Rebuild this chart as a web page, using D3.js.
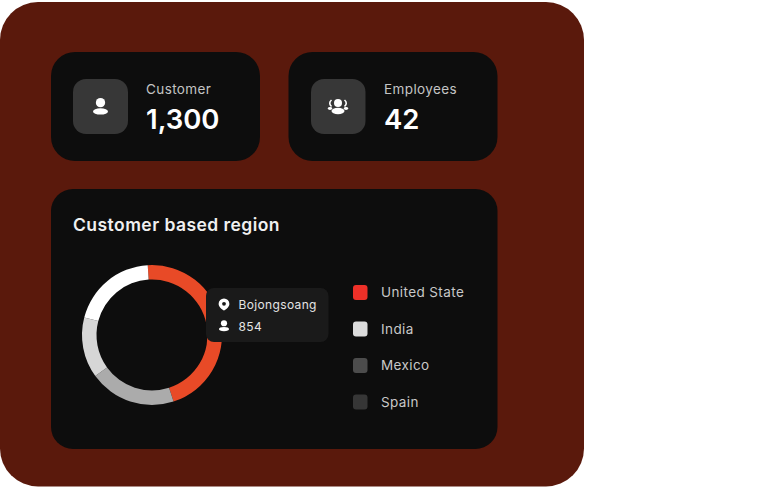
<!DOCTYPE html>
<html><head><meta charset="utf-8">
<script src="https://cdnjs.cloudflare.com/ajax/libs/d3/7.8.5/d3.min.js"></script>
<style>html,body{margin:0;padding:0;background:#fff}svg{display:block}text{font-family:Inter,"Open Sans",sans-serif}</style>
</head><body><svg id="c" width="768" height="487"></svg>
<script>
const donutLabels = ["Red", "Gray", "Light", "White"];
const donutValues = [46, 20, 14, 20];
const donutColors = ["#e84a27", "#ababab", "#d6d6d6", "#ffffff"];
const legendLabels = ["United State", "India", "Mexico", "Spain"];
const legendColors = ["#ee3028", "#dcdcdc", "#4c4c4c", "#363636"];
const statLabels = ["Customer", "Employees"];
const statValues = ["1,300", "42"];

const svg = d3.select("#c");
const rr = (x,y,w,h,r,f)=>svg.append("rect").attr("x",x).attr("y",y).attr("width",w).attr("height",h).attr("rx",r).attr("fill",f);
const txt = (x,y,s,size,fill,weight,ls)=>svg.append("text").attr("x",x).attr("y",y).text(s).attr("font-size",size).attr("fill",fill).attr("font-weight",weight||400).attr("letter-spacing",ls||0);

rr(0,2,584,484.5,38,"#5a190c");
const panel="#0d0d0d";
rr(51,52,209,109,24,panel);
rr(288.5,52,209,109,24,panel);
rr(51,189,446.5,260,22,panel);

rr(73,79,55,55,13,"#373737");
rr(311,79,54.5,55,13,"#373737");

function person(cx,cy,s){
  svg.append("circle").attr("cx",cx).attr("cy",cy-s*.45).attr("r",s*.62).attr("fill","#fff");
  svg.append("ellipse").attr("cx",cx).attr("cy",cy+s*.72).attr("rx",s).attr("ry",s*.42).attr("fill","#fff");
}
person(100.5,106,7.5);
// group icon
svg.append("circle").attr("cx",338).attr("cy",103).attr("r",4).attr("fill","#fff");
svg.append("ellipse").attr("cx",338).attr("cy",111).attr("rx",6.5).attr("ry",3.2).attr("fill","#fff");
[-1,1].forEach(d=>{
  svg.append("path").attr("d",`M${338+d*6.5} 100 q${d*3.5} 3 0 6.5`).attr("fill","none").attr("stroke","#fff").attr("stroke-width",1.6);
  svg.append("ellipse").attr("cx",338+d*8).attr("cy",108.5).attr("rx",2.2).attr("ry",1.4).attr("fill","#fff");
});

statLabels.forEach((l,i)=>{
  const x=[146,384][i];
  txt(x,93.5,l,13.5,"#c4c4c4",400,0.4);
  txt(x,129,statValues[i],27.5,"#fff",600,0);
});
txt(73,231,"Customer based region",17.5,"#f0f0f0",600,0.45);

const pie=d3.pie().sort(null).startAngle(-3.5*Math.PI/180).endAngle((360-3.5)*Math.PI/180)(donutValues);
const arc=d3.arc().innerRadius(55.5).outerRadius(70);
svg.append("g").attr("transform","translate(152,335)").selectAll("path").data(pie).join("path")
  .attr("d",arc).attr("fill",(d,i)=>donutColors[i]);

rr(206,288,122.5,54,8,"#1a1a1a");
// pin icon
svg.append("path").attr("d","M224 298.5 a5.4 5.4 0 0 1 5.4 5.4 c0 3.6 -5.4 6.6 -5.4 6.6 s-5.4 -3 -5.4 -6.6 a5.4 5.4 0 0 1 5.4 -5.4 z").attr("fill","#fff");
svg.append("circle").attr("cx",224).attr("cy",303.8).attr("r",1.9).attr("fill","#1a1a1a");
person(224,325.5,5);
txt(238.5,308.5,"Bojongsoang",12,"#e4e4e4",400,0.35);
txt(238.5,330.5,"854",12,"#e4e4e4",400,0.45);

const ly=d3.scalePoint().domain(legendLabels).range([292.5,402]);
const lg=svg.append("g");
lg.selectAll("rect").data(legendLabels).join("rect")
  .attr("x",353).attr("y",d=>ly(d)-7.5).attr("width",14.5).attr("height",15).attr("rx",3)
  .attr("fill",(d,i)=>legendColors[i]);
lg.selectAll("text").data(legendLabels).join("text")
  .attr("x",381).attr("y",d=>ly(d)+4.8).text(d=>d)
  .attr("font-size",13.5).attr("letter-spacing",0.4).attr("fill","#c8c8c8");
</script></body></html>
